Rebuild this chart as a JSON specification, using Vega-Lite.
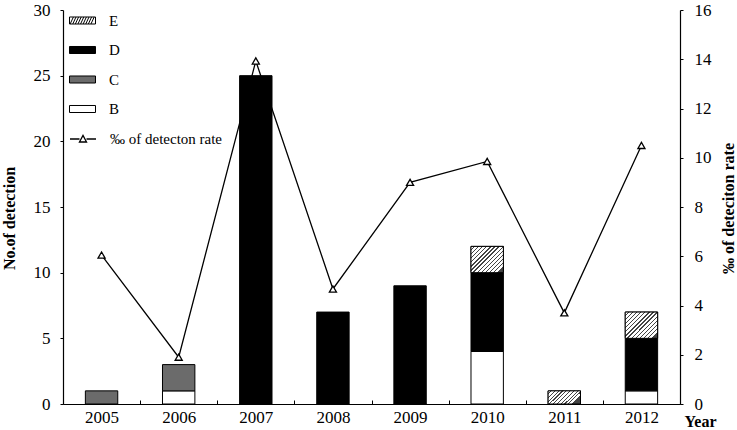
{
  "$schema": "https://vega.github.io/schema/vega-lite/v6.json",
  "width": 617,
  "height": 394,
  "autosize": "none",
  "padding": {"left": 63, "top": 10, "right": 58, "bottom": 26},
  "background": "white",
  "config": {
    "view": {"stroke": null},
    "font": "Liberation Serif",
    "axis": {
      "grid": false,
      "domainColor": "black",
      "tickColor": "black",
      "labelColor": "black",
      "titleColor": "black",
      "labelFont": "Liberation Serif",
      "titleFont": "Liberation Serif",
      "labelFontSize": 17,
      "titleFontSize": 16,
      "titleFontWeight": "bold",
      "domainWidth": 1.2,
      "tickWidth": 1
    },
    "legend": {
      "labelFont": "Liberation Serif",
      "labelFontSize": 15,
      "labelColor": "black"
    }
  },
  "datasets": {
    "bars": [
      {"year": "2005", "type": "C", "count": 1},
      {"year": "2006", "type": "B", "count": 1},
      {"year": "2006", "type": "C", "count": 2},
      {"year": "2007", "type": "D", "count": 25},
      {"year": "2008", "type": "D", "count": 7},
      {"year": "2009", "type": "D", "count": 9},
      {"year": "2010", "type": "B", "count": 4},
      {"year": "2010", "type": "D", "count": 6},
      {"year": "2010", "type": "E", "count": 2},
      {"year": "2011", "type": "E", "count": 1},
      {"year": "2012", "type": "B", "count": 1},
      {"year": "2012", "type": "D", "count": 4},
      {"year": "2012", "type": "E", "count": 2}
    ],
    "rates": [
      {"year": "2005", "rate": 6.05},
      {"year": "2006", "rate": 1.9},
      {"year": "2007", "rate": 13.93},
      {"year": "2008", "rate": 4.67},
      {"year": "2009", "rate": 9.0},
      {"year": "2010", "rate": 9.85},
      {"year": "2011", "rate": 3.7},
      {"year": "2012", "rate": 10.5}
    ]
  },
  "encoding": {
    "x": {
      "field": "year",
      "type": "ordinal",
      "scale": {"paddingInner": 0, "paddingOuter": 0},
      "axis": {
        "title": "Year",
        "labelAngle": 0,
        "tickBand": "extent",
        "tickSize": -4,
        "labelPadding": 9,
        "titleX": 637,
        "titleY": 17,
        "titleAlign": "center",
        "titleBaseline": "middle",
        "titleFontSize": 16
      }
    }
  },
  "layer": [
    {
      "layer": [
        {
          "data": {"name": "bars"},
          "transform": [
            {"stack": "count", "groupby": ["year"], "sort": [{"field": "type", "order": "ascending"}], "as": ["c0", "c1"]}
          ],
          "mark": {"type": "bar", "width": {"band": 0.42}, "stroke": "black", "strokeWidth": 1},
          "encoding": {
            "y": {
              "field": "c1",
              "type": "quantitative",
              "scale": {"domain": [0, 30]},
              "axis": {
                "title": "No.of detection",
                "orient": "left",
                "values": [0, 5, 10, 15, 20, 25, 30],
                "tickSize": 3,
                "labelPadding": 10,
                "titleAngle": 270,
                "titleX": -54,
                "titleY": 208,
                "titleAlign": "center",
                "titleBaseline": "middle"
              }
            },
            "y2": {"field": "c0"},
            "fill": {
              "field": "type",
              "type": "nominal",
              "scale": {
                "domain": ["E", "D", "C", "B"],
                "range": ["white", "black", "#6b6b6b", "white"]
              },
              "legend": {
                "title": null,
                "orient": "none",
                "legendX": 6,
                "legendY": -3,
                "padding": 0,
                "symbolType": "M-1,-0.27H1V0.27H-1Z",
                "symbolSize": 676,
                "symbolStrokeColor": "black",
                "symbolStrokeWidth": 1,
                "symbolOpacity": 1,
                "rowPadding": 7.5,
                "labelOffset": 13,
                "encode": {
                  "symbols": {
                    "update": {
                      "stroke": {"value": "black"},
                      "strokeWidth": {"value": 1},
                      "shape": [
                        {"test": "datum.value === 'E'", "value": "M-1,-0.27H1V0.27H-1Z M-0.95,0.27L-0.7,-0.27 M-0.75,0.27L-0.5,-0.27 M-0.55,0.27L-0.3,-0.27 M-0.35,0.27L-0.1,-0.27 M-0.15,0.27L0.1,-0.27 M0.05,0.27L0.3,-0.27 M0.25,0.27L0.5,-0.27 M0.45,0.27L0.7,-0.27 M0.65,0.27L0.9,-0.27"},
                        {"value": "M-1,-0.27H1V0.27H-1Z"}
                      ]
                    }
                  }
                }
              }
            }
          }
        },
        {
          "data": {"name": "bars"},
          "transform": [
            {"stack": "count", "groupby": ["year"], "sort": [{"field": "type", "order": "ascending"}], "as": ["c0", "c1"]},
            {"filter": "datum.type === 'E' && datum.count === 2"}
          ],
          "mark": {
            "type": "bar",
            "width": {"band": 0.42},
            "stroke": "black",
            "strokeWidth": 1,
            "fill": {"gradient": "linear", "x1": 0, "y1": 0, "x2": 1, "y2": 0.81, "stops": [
              {"offset": 0, "color": "white"}, {"offset": 0.0519, "color": "white"}, {"offset": 0.0519, "color": "#444444"}, {"offset": 0.0769, "color": "#444444"},
              {"offset": 0.0769, "color": "white"}, {"offset": 0.1288, "color": "white"}, {"offset": 0.1288, "color": "#444444"}, {"offset": 0.1538, "color": "#444444"},
              {"offset": 0.1538, "color": "white"}, {"offset": 0.2058, "color": "white"}, {"offset": 0.2058, "color": "#444444"}, {"offset": 0.2308, "color": "#444444"},
              {"offset": 0.2308, "color": "white"}, {"offset": 0.2827, "color": "white"}, {"offset": 0.2827, "color": "#444444"}, {"offset": 0.3077, "color": "#444444"},
              {"offset": 0.3077, "color": "white"}, {"offset": 0.3596, "color": "white"}, {"offset": 0.3596, "color": "#444444"}, {"offset": 0.3846, "color": "#444444"},
              {"offset": 0.3846, "color": "white"}, {"offset": 0.4365, "color": "white"}, {"offset": 0.4365, "color": "#444444"}, {"offset": 0.4615, "color": "#444444"},
              {"offset": 0.4615, "color": "white"}, {"offset": 0.5135, "color": "white"}, {"offset": 0.5135, "color": "#444444"}, {"offset": 0.5385, "color": "#444444"},
              {"offset": 0.5385, "color": "white"}, {"offset": 0.5904, "color": "white"}, {"offset": 0.5904, "color": "#444444"}, {"offset": 0.6154, "color": "#444444"},
              {"offset": 0.6154, "color": "white"}, {"offset": 0.6673, "color": "white"}, {"offset": 0.6673, "color": "#444444"}, {"offset": 0.6923, "color": "#444444"},
              {"offset": 0.6923, "color": "white"}, {"offset": 0.7442, "color": "white"}, {"offset": 0.7442, "color": "#444444"}, {"offset": 0.7692, "color": "#444444"},
              {"offset": 0.7692, "color": "white"}, {"offset": 0.8212, "color": "white"}, {"offset": 0.8212, "color": "#444444"}, {"offset": 0.8462, "color": "#444444"},
              {"offset": 0.8462, "color": "white"}, {"offset": 0.8981, "color": "white"}, {"offset": 0.8981, "color": "#444444"}, {"offset": 0.9231, "color": "#444444"},
              {"offset": 0.9231, "color": "white"}, {"offset": 0.975, "color": "white"}, {"offset": 0.975, "color": "#444444"}, {"offset": 1, "color": "#444444"}
            ]}
          },
          "encoding": {
            "y": {"field": "c1", "type": "quantitative"},
            "y2": {"field": "c0"}
          }
        },
        {
          "data": {"name": "bars"},
          "transform": [
            {"stack": "count", "groupby": ["year"], "sort": [{"field": "type", "order": "ascending"}], "as": ["c0", "c1"]},
            {"filter": "datum.type === 'E' && datum.count === 1"}
          ],
          "mark": {
            "type": "bar",
            "width": {"band": 0.42},
            "stroke": "black",
            "strokeWidth": 1,
            "fill": {"gradient": "linear", "x1": 0, "y1": 0, "x2": 1, "y2": 0.41, "stops": [
              {"offset": 0, "color": "white"}, {"offset": 0.07, "color": "white"}, {"offset": 0.07, "color": "#444444"}, {"offset": 0.1, "color": "#444444"},
              {"offset": 0.1, "color": "white"}, {"offset": 0.17, "color": "white"}, {"offset": 0.17, "color": "#444444"}, {"offset": 0.2, "color": "#444444"},
              {"offset": 0.2, "color": "white"}, {"offset": 0.27, "color": "white"}, {"offset": 0.27, "color": "#444444"}, {"offset": 0.3, "color": "#444444"},
              {"offset": 0.3, "color": "white"}, {"offset": 0.37, "color": "white"}, {"offset": 0.37, "color": "#444444"}, {"offset": 0.4, "color": "#444444"},
              {"offset": 0.4, "color": "white"}, {"offset": 0.47, "color": "white"}, {"offset": 0.47, "color": "#444444"}, {"offset": 0.5, "color": "#444444"},
              {"offset": 0.5, "color": "white"}, {"offset": 0.57, "color": "white"}, {"offset": 0.57, "color": "#444444"}, {"offset": 0.6, "color": "#444444"},
              {"offset": 0.6, "color": "white"}, {"offset": 0.67, "color": "white"}, {"offset": 0.67, "color": "#444444"}, {"offset": 0.7, "color": "#444444"},
              {"offset": 0.7, "color": "white"}, {"offset": 0.77, "color": "white"}, {"offset": 0.77, "color": "#444444"}, {"offset": 0.8, "color": "#444444"},
              {"offset": 0.8, "color": "white"}, {"offset": 0.87, "color": "white"}, {"offset": 0.87, "color": "#444444"}, {"offset": 0.9, "color": "#444444"},
              {"offset": 0.9, "color": "white"}, {"offset": 0.97, "color": "white"}, {"offset": 0.97, "color": "#444444"}, {"offset": 1, "color": "#444444"}
            ]}
          },
          "encoding": {
            "y": {"field": "c1", "type": "quantitative"},
            "y2": {"field": "c0"}
          }
        }
      ]
    },
    {
      "layer": [
        {
          "data": {"name": "rates"},
          "mark": {"type": "line", "strokeWidth": 1.3},
          "encoding": {
            "y": {
              "field": "rate",
              "type": "quantitative",
              "scale": {"domain": [0, 16]},
              "axis": {
                "title": "‰ of deteciton rate",
                "orient": "right",
                "values": [0, 2, 4, 6, 8, 10, 12, 14, 16],
                "tickSize": 3,
                "labelPadding": 11,
                "titleAngle": 270,
                "titleX": 48,
                "titleY": 198,
                "titleAlign": "center",
                "titleBaseline": "middle"
              }
            },
            "stroke": {
              "datum": "‰ of detecton rate",
              "type": "nominal",
              "scale": {"range": ["black"]},
              "legend": {
                "title": null,
                "orient": "none",
                "legendX": 6,
                "legendY": 115,
                "padding": 0,
                "symbolType": "M-1,0H-0.27M0.27,0H1M-0.27,0.23L0,-0.27L0.27,0.23Z",
                "symbolSize": 676,
                "symbolStrokeColor": "black",
                "symbolFillColor": "white",
                "symbolStrokeWidth": 1.3,
                "labelOffset": 13
              }
            }
          }
        },
        {
          "data": {"name": "rates"},
          "mark": {"type": "point", "shape": "triangle-up", "filled": true, "fill": "white", "stroke": "black", "strokeWidth": 1.3, "size": 50, "opacity": 1},
          "encoding": {
            "y": {"field": "rate", "type": "quantitative"}
          }
        }
      ]
    }
  ],
  "resolve": {"scale": {"y": "independent"}, "axis": {"y": "independent"}}
}
